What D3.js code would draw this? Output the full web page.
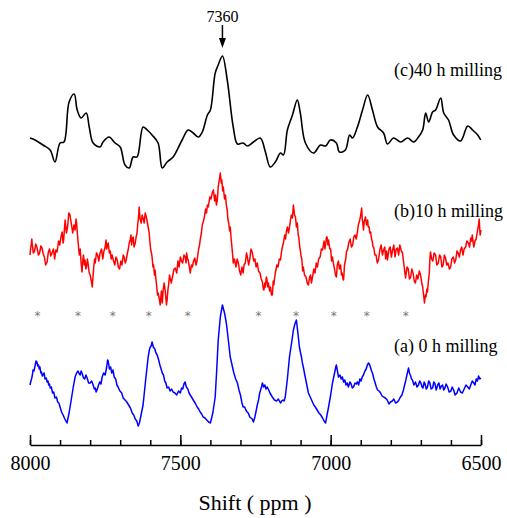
<!DOCTYPE html>
<html>
<head>
<meta charset="utf-8">
<script src="https://cdn.jsdelivr.net/npm/d3@7"></script>
<style>
  html, body { margin: 0; padding: 0; background: #fff; }
  svg { display: block; }
</style>
</head>
<body>
<svg id="chart" width="507" height="518"></svg>
<script>
// NMR spectra of the sample after different milling times (stacked, arbitrary units)
// Each point: [shift in ppm, stacked intensity]

// (c) 40 h milling
const trace40h = [
  [8000,307],[7983,305],[7957,300],[7933,295],[7917,283],[7900,302],[7887,303],[7870,343],
  [7853,351],[7843,335],[7830,327],[7813,332],[7803,318],[7790,302],[7767,298],[7757,303],
  [7737,308],[7717,302],[7700,298],[7684,280],[7670,277],[7657,288],[7644,288],[7624,318],
  [7610,315],[7594,310],[7574,302],[7560,277],[7544,283],[7524,288],[7494,305],[7474,315],
  [7457,312],[7440,308],[7427,313],[7410,330],[7400,335],[7384,372],[7374,380],[7360,389],
  [7344,365],[7324,318],[7310,301],[7291,302],[7277,299],[7257,303],[7234,307],[7217,293],
  [7201,278],[7184,283],[7167,292],[7157,290],[7144,315],[7127,330],[7111,345],[7101,332],
  [7084,302],[7057,292],[7034,300],[7017,299],[7001,305],[6981,302],[6971,293],[6951,295],
  [6937,310],[6927,307],[6911,318],[6894,335],[6877,350],[6861,335],[6844,318],[6824,312],
  [6811,301],[6791,307],[6767,303],[6744,307],[6724,303],[6708,308],[6694,315],[6684,332],
  [6674,323],[6661,333],[6651,335],[6634,347],[6624,332],[6608,325],[6591,310],[6568,304],
  [6544,319],[6528,315],[6511,310],[6501,305]
];

// (b) 10 h milling
const trace10h = [
  [8000,190],[7998,196],[7996,200],[7994,206],[7993,202],[7989,192],[7985,194],[7981,201],
  [7977,198],[7972,190],[7968,192],[7964,199],[7960,197],[7956,191],[7952,188],[7948,180],
  [7943,183],[7939,193],[7935,196],[7931,189],[7927,192],[7922,196],[7918,186],[7914,195],
  [7910,193],[7905,204],[7901,200],[7897,208],[7893,213],[7890,202],[7888,205],[7885,218],
  [7883,225],[7879,212],[7875,218],[7871,232],[7867,230],[7862,220],[7858,212],[7854,220],
  [7850,215],[7847,226],[7845,222],[7842,210],[7840,203],[7836,190],[7833,196],[7830,182],
  [7827,173],[7824,186],[7822,190],[7819,180],[7817,185],[7814,176],[7812,178],[7809,186],
  [7807,182],[7803,172],[7800,170],[7796,164],[7793,158],[7790,170],[7788,178],[7785,186],
  [7783,182],[7779,192],[7775,190],[7771,184],[7767,192],[7762,196],[7758,186],[7754,194],
  [7750,198],[7747,205],[7745,196],[7742,200],[7740,202],[7736,192],[7733,194],[7730,186],
  [7727,190],[7722,184],[7718,180],[7714,188],[7710,185],[7706,178],[7702,176],[7698,184],
  [7694,180],[7690,190],[7687,188],[7683,182],[7680,185],[7676,192],[7673,196],[7670,202],
  [7667,205],[7664,210],[7662,200],[7660,206],[7657,208],[7654,198],[7650,202],[7647,208],
  [7644,212],[7642,220],[7640,225],[7638,232],[7637,238],[7634,226],[7630,222],[7627,230],
  [7624,227],[7620,222],[7617,232],[7613,228],[7610,223],[7607,218],[7604,213],[7601,203],
  [7599,196],[7596,192],[7594,188],[7591,178],[7589,180],[7586,170],[7584,175],[7581,165],
  [7579,160],[7576,150],[7574,152],[7570,146],[7567,140],[7563,154],[7560,142],[7557,155],
  [7554,162],[7551,156],[7549,150],[7546,140],[7544,145],[7541,156],[7539,160],[7536,170],
  [7534,167],[7530,162],[7525,170],[7521,176],[7517,177],[7512,172],[7508,184],[7504,178],
  [7500,188],[7496,184],[7492,182],[7488,190],[7484,188],[7481,182],[7479,192],[7476,186],
  [7474,185],[7470,178],[7467,172],[7463,180],[7460,178],[7456,184],[7452,187],[7448,180],
  [7444,185],[7441,192],[7439,196],[7436,200],[7434,205],[7430,212],[7427,220],[7423,224],
  [7420,228],[7416,236],[7413,232],[7410,240],[7407,238],[7402,248],[7398,246],[7394,252],
  [7390,255],[7386,244],[7383,250],[7380,240],[7377,245],[7374,258],[7372,262],[7369,268],
  [7367,272],[7364,262],[7362,265],[7359,254],[7357,258],[7353,246],[7350,250],[7347,240],
  [7344,235],[7342,226],[7339,222],[7336,214],[7334,218],[7331,206],[7329,200],[7326,190],
  [7324,182],[7320,186],[7315,178],[7311,186],[7307,182],[7303,174],[7299,170],[7295,178],
  [7291,172],[7288,180],[7284,182],[7280,192],[7277,188],[7273,180],[7269,186],[7265,196],
  [7261,193],[7256,184],[7252,186],[7248,178],[7244,182],[7240,174],[7235,172],[7231,166],
  [7227,163],[7224,156],[7222,155],[7219,162],[7217,158],[7214,168],[7212,166],[7209,158],
  [7207,162],[7203,154],[7200,158],[7197,150],[7194,150],[7191,164],[7189,160],[7186,168],
  [7184,172],[7179,180],[7175,178],[7171,186],[7167,185],[7164,192],[7162,196],[7159,200],
  [7157,202],[7153,210],[7150,206],[7147,214],[7144,218],[7140,212],[7135,222],[7131,230],
  [7127,227],[7125,236],[7124,240],[7120,230],[7117,228],[7114,218],[7111,222],[7108,210],
  [7106,208],[7103,198],[7101,195],[7098,188],[7096,186],[7093,174],[7091,178],[7087,170],
  [7082,168],[7078,162],[7074,160],[7070,168],[7067,170],[7064,162],[7061,167],[7056,176],
  [7052,172],[7048,182],[7044,178],[7040,186],[7035,188],[7031,196],[7027,195],[7024,200],
  [7022,204],[7019,196],[7017,200],[7014,208],[7012,208],[7009,200],[7007,205],[7003,196],
  [7000,196],[6997,184],[6994,188],[6990,180],[6987,176],[6984,170],[6981,168],[6978,180],
  [6974,184],[6971,176],[6967,180],[6964,170],[6962,172],[6959,166],[6957,165],[6954,180],
  [6950,186],[6947,194],[6944,195],[6940,202],[6935,206],[6931,198],[6927,200],[6923,208],
  [6919,210],[6915,206],[6911,213],[6908,220],[6904,224],[6900,230],[6897,237],[6895,226],
  [6893,222],[6891,215],[6888,224],[6884,228],[6881,220],[6877,225],[6875,218],[6872,218],
  [6870,212],[6867,213],[6864,206],[6862,204],[6859,198],[6857,198],[6853,190],[6849,190],
  [6845,182],[6841,185],[6836,196],[6832,200],[6828,190],[6824,195],[6820,198],[6817,186],
  [6814,194],[6811,185],[6806,196],[6802,198],[6798,188],[6794,195],[6790,200],[6786,188],
  [6782,196],[6778,197],[6774,190],[6770,200],[6765,194],[6761,192],[6758,184],[6756,180],
  [6753,172],[6751,167],[6746,178],[6742,176],[6738,166],[6734,168],[6730,176],[6726,172],
  [6722,164],[6718,162],[6714,170],[6710,166],[6705,174],[6701,170],[6697,162],[6694,158],
  [6691,150],[6688,142],[6685,150],[6683,148],[6680,156],[6678,153],[6675,164],[6672,172],
  [6670,186],[6668,193],[6664,186],[6660,184],[6656,192],[6651,190],[6647,180],[6642,182],
  [6638,190],[6634,188],[6630,178],[6626,180],[6622,190],[6618,187],[6614,180],[6610,182],
  [6605,176],[6601,178],[6597,186],[6592,188],[6588,182],[6584,185],[6580,194],[6576,192],
  [6572,188],[6568,195],[6564,198],[6560,190],[6556,196],[6551,198],[6547,204],[6542,202],
  [6538,198],[6534,207],[6531,204],[6529,210],[6526,202],[6524,198],[6520,204],[6516,206],
  [6512,214],[6508,220],[6506,226],[6503,210],[6500,215]
];

// (a) 0 h milling
const trace0h = [
  [8000,60],[7997,64],[7995,66],[7992,70],[7990,75],[7987,74],[7984,78],[7980,84],[7977,83],
  [7974,79],[7972,80],[7969,76],[7967,78],[7964,72],[7962,73],[7959,69],[7957,70],[7953,72],
  [7950,66],[7946,67],[7943,63],[7940,64],[7938,60],[7935,61],[7933,57],[7929,58],[7925,52],
  [7921,53],[7917,47],[7912,48],[7908,43],[7904,42],[7900,38],[7895,33],[7890,30],[7884,26],
  [7877,22],[7870,32],[7863,45],[7856,58],[7850,68],[7845,72],[7840,74],[7836,71],[7833,70],
  [7830,74],[7827,72],[7822,67],[7818,66],[7814,70],[7810,67],[7805,62],[7800,62],[7795,64],
  [7790,60],[7786,56],[7783,57],[7780,53],[7777,55],[7772,60],[7768,63],[7764,61],[7760,68],
  [7755,72],[7750,70],[7745,78],[7742,85],[7740,84],[7736,76],[7732,78],[7728,72],[7724,75],
  [7720,68],[7715,66],[7711,60],[7707,58],[7701,54],[7695,52],[7690,47],[7684,45],[7678,43],
  [7672,40],[7666,37],[7660,32],[7655,30],[7650,26],[7645,24],[7640,19],[7636,22],[7632,28],
  [7624,40],[7615,66],[7607,88],[7603,95],[7600,98],[7597,99],[7594,103],[7590,98],[7585,96],
  [7581,92],[7577,90],[7572,85],[7568,80],[7564,76],[7560,72],[7556,70],[7552,64],[7548,62],
  [7544,57],[7539,58],[7534,54],[7529,56],[7524,53],[7518,52],[7512,50],[7506,54],[7500,52],
  [7496,57],[7492,56],[7488,61],[7484,63],[7480,58],[7475,56],[7471,52],[7467,50],[7461,47],
  [7455,44],[7449,41],[7444,38],[7439,36],[7434,33],[7429,31],[7424,28],[7418,27],[7412,25],
  [7406,23],[7400,22],[7392,32],[7384,48],[7379,75],[7374,105],[7367,128],[7360,140],
  [7353,132],[7347,122],[7340,104],[7334,88],[7328,80],[7322,72],[7316,66],[7310,62],
  [7305,55],[7300,50],[7295,42],[7291,38],[7286,38],[7282,35],[7278,33],[7274,32],[7269,28],
  [7265,27],[7261,26],[7257,23],[7252,28],[7248,34],[7244,40],[7240,45],[7236,52],[7233,55],
  [7230,58],[7227,62],[7223,58],[7219,60],[7215,56],[7211,58],[7206,55],[7202,52],[7198,50],
  [7194,48],[7187,45],[7180,44],[7174,46],[7167,42],[7163,44],[7159,45],[7155,44],[7151,48],
  [7144,66],[7137,88],[7130,102],[7124,115],[7119,121],[7114,125],[7109,112],[7104,98],
  [7100,92],[7097,88],[7094,82],[7091,78],[7086,70],[7082,64],[7078,58],[7074,52],[7068,48],
  [7062,44],[7056,40],[7051,38],[7045,35],[7039,32],[7033,30],[7027,27],[7022,24],[7017,22],
  [7012,30],[7007,38],[7000,50],[6994,62],[6987,72],[6983,78],[6981,80],[6977,73],[6974,68],
  [6969,70],[6965,66],[6961,68],[6957,63],[6953,65],[6949,60],[6945,62],[6941,58],[6936,63],
  [6932,61],[6928,57],[6924,58],[6919,62],[6915,61],[6911,63],[6907,60],[6903,66],[6899,64],
  [6895,68],[6891,70],[6886,74],[6882,76],[6878,80],[6874,82],[6870,80],[6867,77],[6864,74],
  [6861,72],[6856,66],[6852,62],[6848,58],[6844,55],[6839,54],[6834,52],[6829,49],[6824,48],
  [6818,47],[6812,45],[6806,41],[6801,43],[6795,44],[6790,46],[6784,42],[6778,43],[6773,45],
  [6768,48],[6763,50],[6758,55],[6754,60],[6750,65],[6745,72],[6741,77],[6738,72],[6735,70],
  [6731,66],[6728,65],[6723,60],[6718,63],[6713,58],[6708,60],[6704,64],[6700,62],[6696,58],
  [6693,57],[6689,63],[6686,61],[6682,56],[6678,58],[6674,64],[6670,62],[6666,56],[6661,57],
  [6657,63],[6653,61],[6649,55],[6644,60],[6640,62],[6636,56],[6632,59],[6628,60],[6624,55],
  [6620,57],[6616,61],[6611,58],[6606,53],[6600,54],[6596,58],[6591,55],[6586,50],[6580,52],
  [6574,57],[6568,53],[6562,52],[6556,56],[6550,60],[6544,58],[6539,56],[6534,60],[6529,64],
  [6524,62],[6520,60],[6516,66],[6512,64],[6508,69],[6504,66],[6500,67]
];

// Positions of the marked reflections (*)
const starShifts = [7975, 7840, 7725, 7605, 7475, 7240, 7115, 6990, 6880, 6750];
const starLevel = 132;

// Annotated peak
const peakShift = 7360;

// Axis ticks
const majorTicks = [8000, 7500, 7000, 6500];
const minorTicks = [8000, 7900, 7800, 7700, 7600, 7500, 7400, 7300, 7200, 7100,
                    7000, 6900, 6800, 6700, 6600, 6500];

// Trace labels
const labels = [
  { text: "(c)40 h milling", level: 369 },
  { text: "(b)10 h milling", level: 228 },
  { text: "(a) 0 h milling", level: 93 }
];

const serif = "'Liberation Serif', 'Times New Roman', Times, serif";

const svg = d3.select("#chart");

const x = d3.scaleLinear().domain([8000, 6500]).range([30, 481]);
const y = d3.scaleLinear().domain([0, 420]).range([445, 25]);

const line = d3.line()
  .x(d => x(d[0]))
  .y(d => y(d[1]));

const smoothLine = d3.line()
  .x(d => x(d[0]))
  .y(d => y(d[1]))
  .curve(d3.curveCatmullRom.alpha(0.5));

// Spectra
svg.append("path").datum(trace40h)
  .attr("d", smoothLine)
  .attr("fill", "none").attr("stroke", "#000").attr("stroke-width", 1.6)
  .attr("stroke-linejoin", "round");

svg.append("path").datum(trace10h)
  .attr("d", line)
  .attr("fill", "none").attr("stroke", "#ff0000").attr("stroke-width", 1.5)
  .attr("stroke-linejoin", "round");

svg.append("path").datum(trace0h)
  .attr("d", line)
  .attr("fill", "none").attr("stroke", "#0000ff").attr("stroke-width", 1.5)
  .attr("stroke-linejoin", "round");

// Asterisks
svg.append("g").selectAll("text")
  .data(starShifts)
  .join("text")
  .attr("x", d => x(d))
  .attr("y", y(starLevel) + 7)
  .attr("text-anchor", "middle")
  .attr("font-family", "'DejaVu Sans', sans-serif")
  .attr("font-size", 12)
  .attr("fill", "#777")
  .text("*");

// Peak annotation with arrow
const px = x(peakShift);
svg.append("text")
  .attr("x", px).attr("y", 22)
  .attr("text-anchor", "middle")
  .attr("font-family", serif)
  .attr("font-size", 16)
  .text(String(peakShift));
svg.append("line")
  .attr("x1", px).attr("x2", px).attr("y1", 25).attr("y2", 40)
  .attr("stroke", "#000").attr("stroke-width", 1.5);
svg.append("path")
  .attr("d", `M${px - 3.5},38 L${px + 3.5},38 L${px},48 Z`)
  .attr("fill", "#000");

// Trace labels
svg.append("g").selectAll("text")
  .data(labels)
  .join("text")
  .attr("x", 394)
  .attr("y", d => y(d.level))
  .attr("font-family", serif)
  .attr("font-size", 18)
  .attr("fill", "#000")
  .text(d => d.text);

// Bottom axis with inward ticks
const axisY = 445;
const minorAxis = d3.axisBottom(x).tickValues(minorTicks).tickSize(-5).tickFormat("");
const majorAxis = d3.axisBottom(x).tickValues(majorTicks).tickSizeInner(-10)
  .tickSizeOuter(0).tickPadding(11).tickFormat(d3.format("d"));

const gMinor = svg.append("g").attr("transform", `translate(0,${axisY})`).call(minorAxis);
gMinor.select(".domain").remove();
gMinor.selectAll("line").attr("stroke", "#000").attr("stroke-width", 1.5);

const gMajor = svg.append("g").attr("transform", `translate(0,${axisY})`).call(majorAxis);
gMajor.select(".domain").attr("stroke", "#000").attr("stroke-width", 1.5);
gMajor.selectAll("line").attr("stroke", "#000").attr("stroke-width", 1.5);
gMajor.selectAll("text")
  .attr("font-family", serif)
  .attr("font-size", 20)
  .attr("fill", "#000");

// Axis title
svg.append("text")
  .attr("x", 255).attr("y", 510)
  .attr("text-anchor", "middle")
  .attr("font-family", serif)
  .attr("font-size", 22)
  .attr("fill", "#000")
  .text("Shift ( ppm )");
</script>
</body>
</html>
